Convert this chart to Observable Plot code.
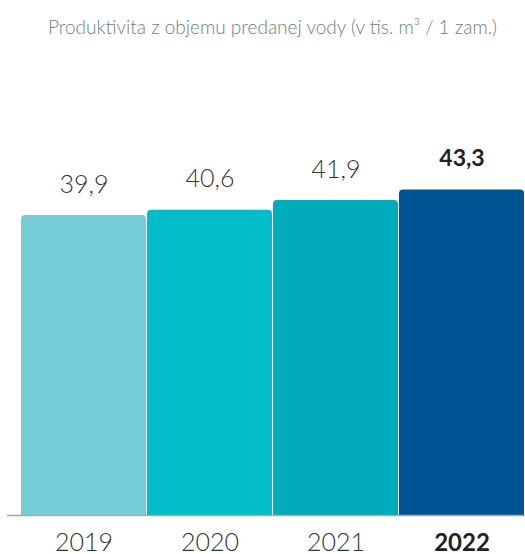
<!DOCTYPE html>
<html>
<head>
<meta charset="utf-8">
<script src="https://cdn.jsdelivr.net/npm/d3@7"></script>
<script src="https://cdn.jsdelivr.net/npm/@observablehq/plot@0.6"></script>
<style>
  html, body { margin: 0; padding: 0; background: #ffffff; }
  #chart { width: 525px; }
  #title {
    box-sizing: border-box;
    height: 50px;
    padding-top: 16px;
    padding-left: 20px;
    text-align: center;
    font-family: Lato, "Open Sans", sans-serif;
    font-weight: 300;
    font-size: 19px;
    line-height: 22px;
    color: #6f7d83;
    white-space: nowrap;
  }
  svg { display: block; }
</style>
</head>
<body>
<div id="chart">
  <div id="title">Produktivita z objemu predanej vody (v tis. m³ / 1 zam.)</div>
</div>
<script>
const years = ["2019", "2020", "2021", "2022"];
const values = [39.9, 40.6, 41.9, 43.3];
const valueLabels = ["39,9", "40,6", "41,9", "43,3"];
const barColors = ["#76cdd8", "#00bdca", "#00acba", "#005494"];
const highlight = [false, false, false, true];

const data = years.map((year, i) => ({
  year,
  value: values[i],
  label: valueLabels[i],
  color: barColors[i],
  bold: highlight[i]
}));

const font = "Lato, 'Open Sans', sans-serif";

const chart = Plot.plot({
  width: 525,
  height: 504,
  marginTop: 14,
  marginBottom: 39,
  marginLeft: 7,
  marginRight: 0,
  x: { domain: years, insetLeft: 13, paddingInner: 0.008, paddingOuter: 0, axis: null },
  y: { domain: [0, 60], axis: null },
  color: { type: "identity" },
  style: { fontFamily: font, background: "#ffffff" },
  marks: [
    Plot.barY(data, {
      x: "year",
      y1: -1,
      y2: "value",
      fill: "color",
      rx: 4,
      clip: true
    }),
    Plot.ruleY([0], { stroke: "#a8a8a8", strokeWidth: 1.5 }),
    Plot.text(data.filter(d => !d.bold), {
      x: "year", y: "value", text: "label",
      lineAnchor: "bottom", dy: -23,
      fontSize: 25, fontWeight: 300, fill: "#333333"
    }),
    Plot.text(data.filter(d => d.bold), {
      x: "year", y: "value", text: "label",
      lineAnchor: "bottom", dy: -24,
      fontSize: 23, fontWeight: 700, fill: "#222222"
    }),
    Plot.text(data.filter(d => !d.bold), {
      x: "year", y: () => 0, text: "year",
      lineAnchor: "bottom", dy: 35,
      fontSize: 25, fontWeight: 300, fill: "#333333"
    }),
    Plot.text(data.filter(d => d.bold), {
      x: "year", y: () => 0, text: "year",
      lineAnchor: "bottom", dy: 35,
      fontSize: 24, fontWeight: 700, fill: "#222222"
    })
  ]
});

document.getElementById("chart").appendChild(chart);
</script>
</body>
</html>
